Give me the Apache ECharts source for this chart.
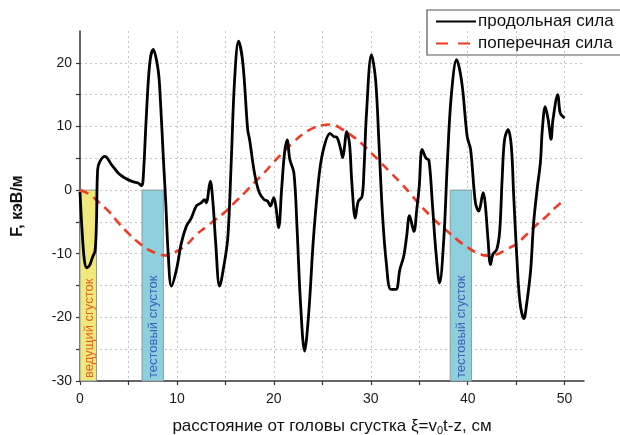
<!DOCTYPE html>
<html>
<head>
<meta charset="utf-8">
<script src="https://cdn.jsdelivr.net/npm/echarts@6/dist/echarts.min.js"></script>
<style>
html,body{margin:0;padding:0;background:#fff;}
#c{width:620px;height:435px;}
</style>
</head>
<body>
<div id="c"></div>
<script>
// longitudinal force (black solid)
var longX = [0, 0.2, 0.45, 0.7, 1.0, 1.3, 1.55, 1.7, 1.82, 2.06, 2.57, 3.25, 3.94, 4.63, 5.3, 6.0, 6.34, 6.5, 6.86, 7.2, 7.54, 8.06, 8.3, 8.6, 8.85, 9.1, 9.43, 9.95, 10.46, 10.97, 11.48, 12.0, 12.5, 12.86, 13.03, 13.44, 13.72, 14.0, 14.4, 14.9, 15.26, 15.6, 15.95, 16.36, 16.8, 17.3, 17.5, 18.0, 18.5, 19.0, 19.35, 19.65, 19.99, 20.2, 20.5, 20.8, 21.1, 21.37, 21.65, 22.07, 22.4, 22.75, 23.17, 23.6, 24.1, 24.7, 25.2, 25.8, 26.2, 26.5, 26.9, 27.1, 27.3, 27.5, 27.8, 28.05, 28.4, 28.7, 29.1, 29.3, 29.56, 30.07, 30.5, 30.86, 31.2, 31.6, 32.07, 32.6, 33.0, 33.4, 33.7, 34.0, 34.45, 34.75, 35.0, 35.3, 35.7, 36.0, 36.35, 36.7, 37.1, 37.55, 37.9, 38.3, 38.86, 39.4, 39.95, 40.3, 40.8, 41.15, 41.6, 41.8, 42.1, 42.35, 42.6, 43.0, 43.3, 43.55, 43.8, 44.17, 44.5, 44.75, 45.1, 45.4, 45.8, 46.1, 46.5, 46.8, 47.2, 47.5, 47.7, 48.0, 48.3, 48.6, 48.8, 49.3, 49.55, 50.0];
var longY = [-0.3, -6, -11, -12.2, -11.8, -10.5, -9.6, -5, 3.2, 4.5, 5.3, 4.0, 2.7, 1.9, 1.4, 1.1, 0.7, 1.4, 12.1, 20, 22.1, 18.9, 14, 5, -2, -10, -15.1, -12.5, -8.3, -5.7, -4.4, -2.5, -2.0, -1.5, -2.0, 1.4, -2.0, -8.3, -15.1, -11.4, -7.3, 4.3, 17.3, 23.4, 20, 9.5, 7.9, 2.7, -0.4, -1.5, -1.7, -2.5, -1.2, -2.5, -5.9, 0.1, 5.8, 7.9, 4.8, 2.7, -6.2, -17.7, -25.3, -19.3, -7.3, 2.7, 6.9, 8.9, 8.4, 8.3, 6.4, 5.1, 6.9, 9.2, 7.4, 1.1, -4.4, -1.8, -1.0, 3.2, 12.1, 21.3, 17.3, 6.9, -3.6, -11.4, -15.6, -15.6, -12.5, -10.4, -7.3, -4.0, -6.5, -3.0, 0.6, 6.4, 5.0, 4.7, -2.0, -9.3, -14.6, -7.3, 4.3, 14.7, 20.5, 16.8, 8.4, 6.4, -2.0, -3.3, -0.4, -2.0, -7.8, -11.7, -10.1, -9.3, -6.5, 1.6, 7.9, 9.5, 6.9, -1.0, -11.4, -17.7, -20.2, -17.7, -12.5, -5.2, 0.6, 4.3, 9.5, 13.1, 11.1, 8.0, 11.1, 15.0, 12.1, 11.3];

// transverse force (red dashed)
var transX = [0,1,2,3,4,5,6,7,8,9,10,11,12,13,14,15,16,17,18,19,20,21,22,23,24,25,26,27,28,29,30,31,32,33,34,35,36,37,38,39,40,41,42,43,44,45,46,47,48,49,50];
var transY = [0,-0.7,-2.0,-3.4,-5.2,-6.8,-8.2,-9.3,-10.0,-10.3,-9.6,-8.6,-7.0,-5.8,-4.6,-3.4,-1.9,-0.4,1.2,2.7,4.4,6.0,7.5,8.8,9.7,10.2,10.3,9.6,8.6,7.4,5.9,4.4,2.8,1.3,-0.4,-2.2,-3.8,-5.3,-6.6,-7.9,-9.0,-9.9,-10.3,-10.1,-9.3,-8.5,-7.1,-5.6,-4.3,-2.8,-1.5];

// bunches
var bunchNames = ['ведущий сгусток', 'тестовый сгусток', 'тестовый сгусток'];
var bunchStart = [0, 6.4, 38.2];
var bunchEnd = [1.7, 8.6, 40.4];
var bunchTop = [0, 0, 0];
var bunchBottom = [-30, -30, -30];

var seriesNames = ['продольная сила', 'поперечная сила'];
var xTickLabels = ['0', '10', '20', '30', '40', '50'];
var yTickLabels = ['-30', '-20', '-10', '0', '10', '20'];

function zip(a, b) { return a.map(function (v, i) { return [v, b[i]]; }); }
var bunchData = bunchNames.map(function (n, i) { return [bunchStart[i], bunchEnd[i], bunchTop[i], bunchBottom[i], i]; });

var bunchFill = ['#f1e87c', '#8dcfdc', '#8dcfdc'];
var bunchText = ['#e8602a', '#3a5fc0', '#3a5fc0'];
var FONT = '"Liberation Sans", Arial, sans-serif';

var chart = echarts.init(document.getElementById('c'));
chart.setOption({
  animation: false,
  backgroundColor: '#fff',
  grid: { left: 80, right: 36, top: 31, bottom: 54, outerBoundsMode: 'none', containLabel: false },
  legend: {
    orient: 'vertical',
    left: 427, top: 10,
    padding: [3, 10, 3, 8],
    borderColor: '#555', borderWidth: 1.2,
    itemWidth: 40, itemHeight: 15, itemGap: 5,
    itemStyle: { opacity: 0 },
    textStyle: { fontSize: 17, color: '#111', fontFamily: FONT, padding: [0, 0, 0, -3] },
    data: [
      { name: seriesNames[0] },
      { name: seriesNames[1], lineStyle: { type: [12, 10] } }
    ]
  },
  xAxis: {
    type: 'value', min: 0, max: 52, interval: 5,
    name: '{a|расстояние от головы сгустка ξ=v}{s|0}{a|t-z, см}',
    nameLocation: 'middle', nameGap: 35,
    nameTextStyle: {
      rich: {
        a: { fontSize: 17, color: '#111', fontFamily: FONT, lineHeight: 20 },
        s: { fontSize: 11, color: '#111', fontFamily: FONT, lineHeight: 9, verticalAlign: 'bottom' }
      }
    },
    axisLine: { onZero: false, lineStyle: { color: '#333', width: 1.5 } },
    axisTick: { length: 4, lineStyle: { color: '#333', width: 1.2 } },
    axisLabel: {
      fontSize: 14, color: '#1a1a1a', margin: 11, showMaxLabel: false,
      fontFamily: FONT,
      formatter: function (v) { var s = String(v); return xTickLabels.indexOf(s) >= 0 ? s : ''; }
    },
    splitLine: { show: true, showMaxLine: false, showMinLine: false, lineStyle: { color: '#c4c4c4', type: [2, 3], width: 1 } }
  },
  yAxis: {
    type: 'value', min: -30, max: 25, interval: 5,
    name: 'F, кэВ/м',
    nameLocation: 'middle', nameGap: 54,
    nameTextStyle: { fontSize: 16, fontWeight: 'bold', color: '#111', fontFamily: FONT },
    axisLine: { show: true, onZero: false, lineStyle: { color: '#333', width: 1.5 } },
    axisTick: { show: true, length: 4, lineStyle: { color: '#333', width: 1.2 } },
    axisLabel: {
      fontSize: 14, color: '#1a1a1a', margin: 8, showMaxLabel: false,
      fontFamily: FONT,
      formatter: function (v) { var s = String(v); return yTickLabels.indexOf(s) >= 0 ? s : ''; }
    },
    splitLine: { show: true, showMaxLine: false, showMinLine: false, lineStyle: { color: '#c4c4c4', type: [2, 3], width: 1 } }
  },
  series: [
    {
      type: 'custom',
      name: 'bunches',
      z: 1,
      data: bunchData,
      encode: { x: [0, 1], y: [2, 3] },
      renderItem: function (params, api) {
        var i = api.value(4);
        var p0 = api.coord([api.value(0), api.value(2)]);
        var p1 = api.coord([api.value(1), api.value(3)]);
        var cx = (p0[0] + p1[0]) / 2;
        return {
          type: 'group',
          children: [
            { type: 'rect', shape: { x: p0[0], y: p0[1], width: p1[0] - p0[0], height: p1[1] - p0[1] },
              style: { fill: bunchFill[i], stroke: '#8a9aa0', lineWidth: 1 } },
            { type: 'text', x: cx + 1, y: p1[1] - 3, rotation: Math.PI / 2,
              style: { text: bunchNames[i], fill: bunchText[i], font: '13px ' + FONT, align: 'left', verticalAlign: 'middle' } }
          ]
        };
      }
    },
    {
      type: 'line', name: seriesNames[1], z: 3,
      data: zip(transX, transY),
      smooth: 0.4, showSymbol: false, symbol: 'none',
      lineStyle: { color: '#f03a22', width: 2.6, type: [9, 6] },
      itemStyle: { color: '#f03a22' }
    },
    {
      type: 'line', name: seriesNames[0], z: 4,
      data: zip(longX, longY),
      smooth: 0.35, showSymbol: false, symbol: 'none',
      lineStyle: { color: '#000', width: 2.8 },
      itemStyle: { color: '#000' }
    }
  ]
});
</script>
</body>
</html>
